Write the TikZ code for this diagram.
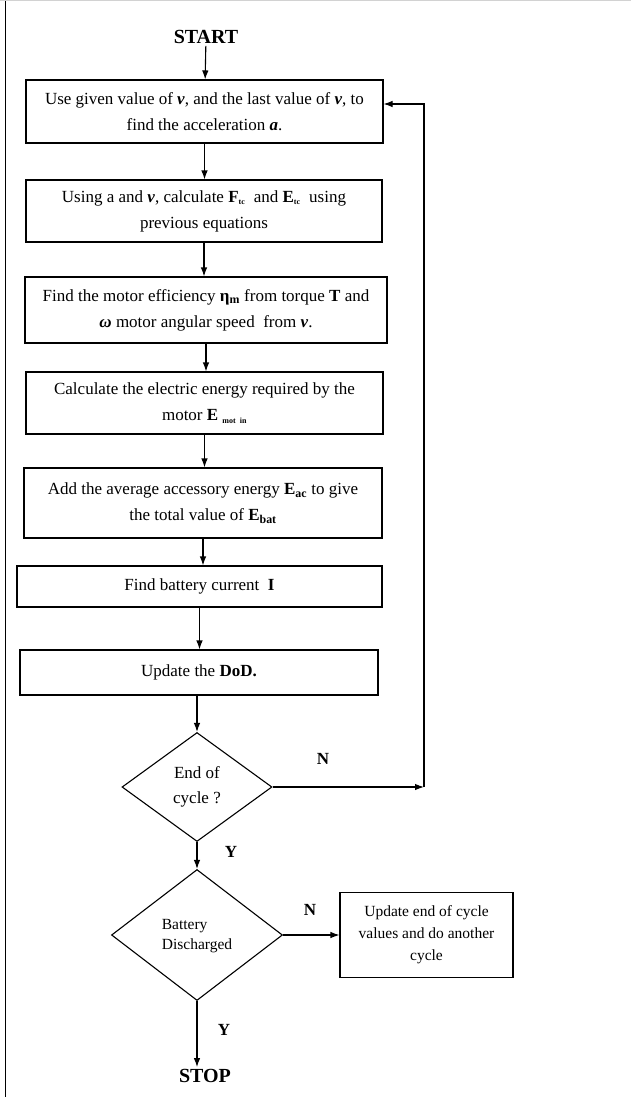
\documentclass[tikz,border=0pt]{standalone}
\usepackage{fontspec}
\setmainfont{Liberation Serif}
\usepackage{tikz}
\usetikzlibrary{shapes.geometric, positioning, arrows.meta}

\newcommand{\velo}{\textbf{\textit{v}}}
\newcommand{\smallsub}[1]{\textsubscript{\fontsize{8}{8}\selectfont\bfseries #1}}

\tikzset{
  procbox/.style={draw, line width=1.1pt, inner sep=0pt, align=center,
    font=\fontsize{17}{26}\selectfont},
  decision/.style={draw, diamond, line width=1.1pt, inner sep=0pt, align=center},
  flow/.style={line width=1.1pt, -{Latex[length=9pt,width=6.5pt]}},
  yesno/.style={font=\fontsize{17}{20}\selectfont\bfseries},
  terminal/.style={inner sep=2pt, font=\fontsize{20}{24}\selectfont\bfseries},
}

\begin{document}
\begin{tikzpicture}[x=1pt, y=-1pt]
  \useasboundingbox (0,0) rectangle (631,1097);
  % frame of the figure
  \draw[gray!35, line width=1pt] (0,0.5) -- (631,0.5);
  \draw[line width=1pt] (5,1) -- (5,1097);

  \node[terminal] (start) at (206,37) {START};

  \node[procbox, minimum width=357, minimum height=63] (accel) at (204.5,111.5)
    {Use given value of \velo, and the last value of \velo, to\\
     find the acceleration \textbf{\textit{a}}.};
  \node[procbox, minimum width=356, minimum height=62] (force) at (204,211)
    {Using a and \velo, calculate \textbf{F}\smallsub{tc}\ \ and \textbf{E}\smallsub{tc}\ \ using\\
     previous equations};
  \node[procbox, minimum width=362, minimum height=66] (effic) at (206,310)
    {Find the motor efficiency \textbf{η\textsubscript{m}} from torque \textbf{T} and\\
     \textbf{\textit{ω}} motor angular speed\ \ from \velo.};
  \node[procbox, minimum width=357, minimum height=62] (motor) at (204.5,403)
    {Calculate the electric energy required by the\\
     motor \textbf{E} \smallsub{mot\ \ in}};
  \node[procbox, minimum width=358, minimum height=70] (ebat) at (203,503)
    {Add the average accessory energy \textbf{E\textsubscript{ac}} to give\\
     the total value of \textbf{E\textsubscript{bat}}};
  \node[procbox, minimum width=365, minimum height=41] (curr) at (199.5,586.5)
    {Find battery current\ \ \textbf{I}};
  \node[procbox, minimum width=358, minimum height=45] (dod) at (199,672.5)
    {Update the \textbf{DoD.}};

  \node[decision, minimum width=150, minimum height=109,
    font=\fontsize{17}{25}\selectfont] (cycend) at (197,787)
    {End of\\ cycle ?};
  \node[decision, minimum width=171, minimum height=131,
    font=\fontsize{15.5}{20}\selectfont] (batdis) at (197,935)
    {\begin{tabular}{@{}l@{}}Battery\\ Discharged\end{tabular}};
  \node[procbox, minimum width=173, minimum height=85,
    font=\fontsize{15.5}{22}\selectfont] (nextcyc) at (426.5,935)
    {Update end of cycle\\ values and do another\\ cycle};

  \node[terminal] (stop) at (205,1076) {STOP};

  % main flow
  \draw[flow] (start) -- (accel);
  \draw[flow] (accel.south) -- (accel.south |- force.north);
  \draw[flow] (force.south) -- (force.south |- effic.north);
  \draw[flow] (effic.south) -- (effic.south |- motor.north);
  \draw[flow] (motor.south) -- (motor.south |- ebat.north);
  \draw[flow] (ebat.south) -- (ebat.south |- curr.north);
  \draw[flow] (curr.south) -- (curr.south |- dod.north);
  \draw[flow] (dod.south -| cycend.north) -- (cycend.north);
  \draw[flow] (cycend.south) -- (batdis.north);
  \draw[flow] (batdis.south) -- (batdis.south |- stop.north);
  \draw[flow] (batdis.east) -- (nextcyc.west);

  % loop back to the first step
  \coordinate (loopbot) at (424,787);
  \coordinate (looptop) at (424,104);
  \draw[flow] (cycend.east) -- (loopbot);
  \draw[flow] (loopbot) -- (looptop) -- (accel.east |- looptop);

  % branch labels
  \node[yesno] (nocyc) at (323,759) {N};
  \node[yesno] (yescyc) at (231,852) {Y};
  \node[yesno] (nobat) at (310,910) {N};
  \node[yesno] (yesbat) at (224,1030) {Y};
\end{tikzpicture}
\end{document}
